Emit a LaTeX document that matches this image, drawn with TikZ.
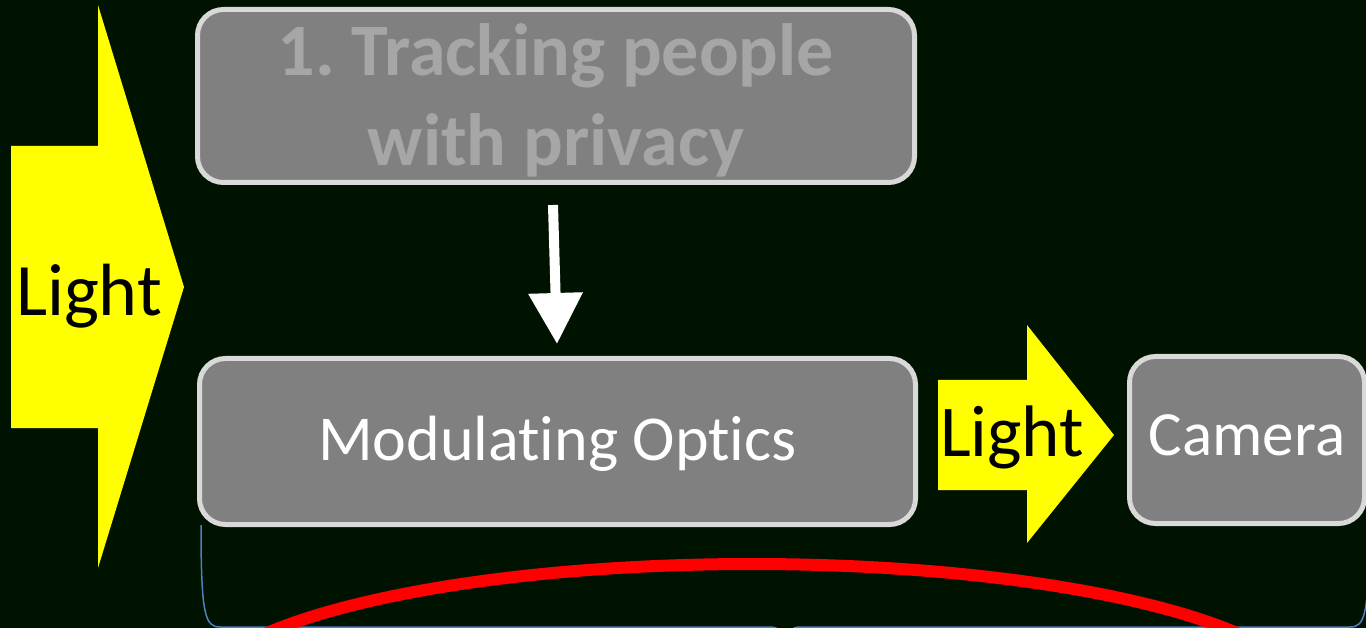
\documentclass[tikz,border=0pt]{standalone}
\usepackage{fontspec}
\setmainfont[Ligatures=NoCommon]{Carlito}
\usetikzlibrary{arrows.meta}

\definecolor{bg}{RGB}{0,19,0}
\definecolor{boxfill}{RGB}{128,128,128}
\definecolor{boxline}{RGB}{217,217,217}
\definecolor{dimtext}{RGB}{166,166,166}
\definecolor{bracecol}{RGB}{79,129,189}
\definecolor{beamyellow}{RGB}{255,255,0}
\definecolor{arcred}{RGB}{255,0,0}

\frenchspacing
\begin{document}
\begin{tikzpicture}[x=1pt,y=-1pt,
  box/.style={draw=boxline, fill=boxfill, line width=5pt, rounded corners=26pt,
              inner sep=0pt, align=center},
  beam/.style={fill=beamyellow, draw=none},
  beamlabel/.style={text=black, anchor=base, inner sep=0pt},
  flow/.style={draw=white, line width=10pt, -{Triangle[width=52pt,length=51pt]}}
]
\useasboundingbox (0,0) rectangle (1366,628);
\clip (0,0) rectangle (1366,628);
\fill[bg] (0,0) rectangle (1366,628);

% incoming light, big block arrow on the left
\fill[beam] (11,146) -- (98,146) -- (98,5) -- (184,287) -- (98,568) -- (98,428) -- (11,428) -- cycle;
\node[beamlabel, font=\fontsize{74}{88}\selectfont] (lightin) at (89,316) {Light};

% boxes
\node[box, minimum width=717pt, minimum height=173pt,
      font=\fontsize{74}{90}\selectfont\bfseries, text=dimtext,
      text height=140pt, text depth=0pt]
  (track) at (556,96) {1. Tracking people\\with privacy};
\node[box, minimum width=716pt, minimum height=166pt,
      font=\fontsize{64}{76}\selectfont, text=white,
      text height=37pt, text depth=0pt]
  (optics) at (557.5,441.5) {Modulating Optics};
\node[box, minimum width=235pt, minimum height=167pt,
      font=\fontsize{63}{74}\selectfont, text=white,
      text height=30pt, text depth=0pt]
  (camera) at (1247,440) {Camera};

% control arrow from tracking to optics
\coordinate (ctrlS) at (553,205);
\coordinate (ctrlE) at (557,344);
\draw[flow] (ctrlS) -- (ctrlE);

% outgoing light between optics and camera
\fill[beam] (938,380) -- (1027,380) -- (1027,325) -- (1114,435) -- (1027,543) -- (1027,490) -- (938,490) -- cycle;
\node[beamlabel, font=\fontsize{73}{88}\selectfont] (lightout) at (1012,456) {Light};

% brace under the optics and camera
\draw[bracecol, line width=1.5pt]
  (201,525) .. controls (201,615) and (205,627) .. (220,627) -- (770,627)
  .. controls (778,627) and (784,632) .. (785,640);
\draw[bracecol, line width=1.5pt]
  (1369,525) .. controls (1369,615) and (1365,627) .. (1350,627) -- (800,627)
  .. controls (792,627) and (786,632) .. (785,640);

% red arc
\draw[arcred, line width=12pt] (752,702) ellipse [x radius=560, y radius=138];
\end{tikzpicture}
\end{document}
